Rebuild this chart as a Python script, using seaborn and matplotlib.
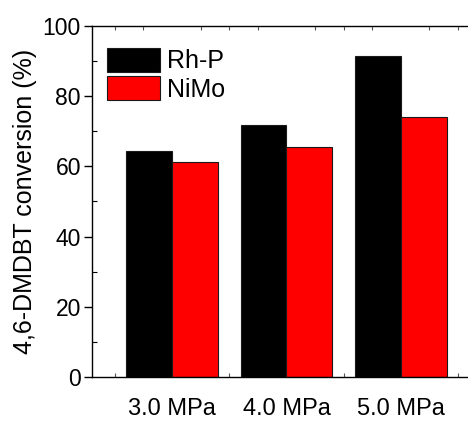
import pandas as pd
import numpy as np
import seaborn as sns
import matplotlib.pyplot as plt
from matplotlib.ticker import MultipleLocator, FixedLocator

pressures = ['3.0 MPa', '4.0 MPa', '5.0 MPa']
rhp = [64.5, 71.7, 91.3]
nimo = [61.1, 65.4, 74.0]
catalysts = ['Rh-P', 'NiMo']
colors = ['black', 'red']

df = pd.DataFrame({
    'pressure': pressures * 2,
    'catalyst': [catalysts[0]] * 3 + [catalysts[1]] * 3,
    'conversion': rhp + nimo,
})

sns.set_style('ticks')
plt.rcParams['font.family'] = ['Liberation Sans', 'DejaVu Sans']
plt.rcParams['text.color'] = 'black'
plt.rcParams['axes.labelcolor'] = 'black'
plt.rcParams['xtick.labelcolor'] = 'black'
plt.rcParams['ytick.labelcolor'] = 'black'

fig = plt.figure(figsize=(4.68, 4.22), dpi=100)
ax = fig.add_axes([0.1966, 0.1066, 0.831, 0.832])

sns.barplot(data=df, x='pressure', y='conversion', hue='catalyst',
            palette=colors, saturation=1, edgecolor='#1a1a1a', linewidth=0.8,
            width=0.8, ax=ax)

ax.set_xlim(-0.7, 2.7)
ax.set_ylim(0, 100)
ax.set_xlabel('')
ax.set_ylabel('4,6-DMDBT conversion (%)', fontsize=18, labelpad=4, color='black')
ax.set_axisbelow(True)

for s in ['left', 'bottom', 'top']:
    ax.spines[s].set_linewidth(1.0)
    ax.spines[s].set_color('black')
ax.spines['right'].set_visible(False)

ax.yaxis.set_major_locator(MultipleLocator(20))
ax.yaxis.set_minor_locator(MultipleLocator(10))
ax.tick_params(axis='y', which='major', direction='out', length=6, width=1,
               labelsize=16.5, pad=2, left=True, right=False,
               color='black', labelcolor='black')
ax.tick_params(axis='y', which='minor', direction='in', length=3.5, width=0.8,
               left=True, right=False, color='black')

ax.xaxis.set_minor_locator(FixedLocator(np.arange(-0.5, 2.75, 0.25)))
ax.tick_params(axis='x', which='major', direction='in', length=3, width=0.8,
               labelsize=17, pad=15, bottom=True, top=False, color='#555555',
               labelcolor='black')
ax.tick_params(axis='x', which='minor', direction='in', length=3, width=0.8,
               bottom=True, top=True, color='#555555')

leg = ax.legend(title=None, loc='upper left', bbox_to_anchor=(0.038, 0.937),
                frameon=False, fontsize=18, handlelength=2.12, handleheight=1.08,
                labelspacing=0.12, handletextpad=0.28, borderpad=0, borderaxespad=0)
for t in leg.get_texts():
    t.set_color('black')

fig.savefig('out.png', dpi=100)
